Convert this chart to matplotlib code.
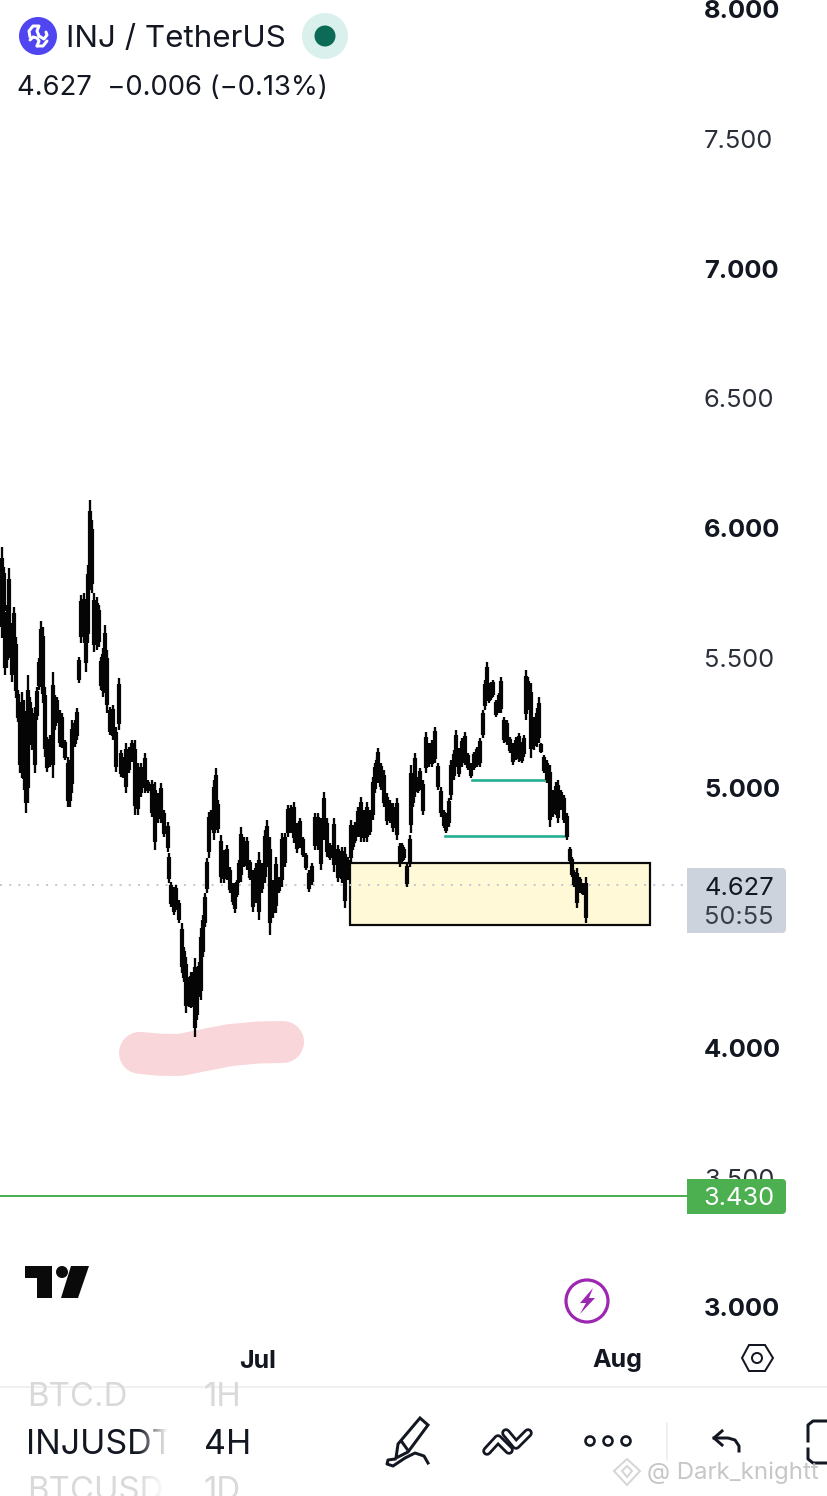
# INJ / TetherUS 4H chart screenshot
import numpy as np
import matplotlib
matplotlib.use('Agg')
import matplotlib.pyplot as plt
from matplotlib.patches import Rectangle, Circle, Polygon, FancyBboxPatch

plt.rcParams['font.family'] = ['Inter', 'DejaVu Sans']

# days since 1 Jul
bar_day = [-22.11,-21.93,-21.85,-21.68,-21.50,-21.24,-21.07,-20.90,-20.73,-20.55,-20.38,-20.21,-20.03,-19.86,-19.69,-19.52,-19.26,-19.08,-18.91,-18.74,
 -18.57,-18.39,-18.22,-17.96,-17.70,-17.53,-17.36,-17.10,-16.93,-16.67,-16.41,-16.23,-16.06,-15.80,-15.63,-15.46,-15.28,-15.03,-14.85,-14.68,
 -14.51,-14.33,-14.16,-13.90,-13.73,-13.56,-13.39,-13.21,-13.04,-12.78,-12.52,-12.26,-12.00,-11.83,-11.66,-11.40,-11.14,-10.88,-10.62,-10.36,
 -10.10,-9.76,-9.50,-9.15,-8.89,-8.64,-8.38,-8.12,-7.77,-7.69,-7.51,-7.25,-7.08,-6.82,-6.56,-6.39,-6.22,-5.96,-5.79,-5.61,
 -5.44,-5.27,-5.09,-4.92,-4.75,-4.58,-4.40,-4.23,-4.06,-3.80,-3.63,-3.45,-3.20,-2.94,-2.68,-2.42,-2.16,-1.99,-1.81,-1.64,
 -1.47,-1.21,-0.95,-0.69,-0.43,-0.17,0.09,0.35,0.60,0.78,1.04,1.30,1.55,1.81,2.07,2.33,2.59,2.85,3.11,3.37,
 3.63,3.89,4.15,4.40,4.66,4.92,5.18,5.44,5.70,5.96,6.22,6.56,6.91,7.25,7.51,7.77,8.03,8.20,8.38,8.64,
 8.89,9.15,9.41,9.67,9.93,10.10,10.28,10.36,10.62,10.88,11.14,11.40,11.66,12.00,12.26,12.44,12.61,12.87,13.13,13.21,
 13.39,13.56,13.82,13.99,14.25,14.51,14.77,15.03,15.28,15.54,15.80,16.06,16.23,16.49,16.67,16.93,17.10,17.36,17.62,17.88,
 18.13,18.39,18.65,18.91,19.17,19.43,19.60,19.78,19.95,20.12,20.29,20.55,20.81,20.98,21.24,21.50,21.76,22.02,22.28,22.54,
 22.80,22.97,23.14,23.32,23.58,23.83,24.09,24.27,24.44,24.70,24.96,25.22,25.47,25.73,25.91,26.17,26.42,26.68,26.94,27.12,
 27.29,27.55,27.81,28.07,28.32]
bar_high = [5.928,5.851,5.666,5.705,5.847,5.635,5.697,5.581,5.377,5.308,5.370,5.339,5.223,5.435,5.350,5.308,5.312,5.389,5.501,5.643,
 5.620,5.389,5.196,5.204,5.447,5.358,5.350,5.300,5.289,5.185,5.119,5.108,5.262,5.262,5.308,5.504,5.743,5.751,5.724,5.859,
 6.109,6.032,5.751,5.735,5.705,5.504,5.539,5.628,5.531,5.312,5.320,5.235,5.424,5.146,5.119,5.173,5.158,5.185,5.185,5.096,
 5.096,5.135,5.031,5.031,5.023,4.981,5.019,4.915,4.869,4.750,4.638,4.619,4.627,4.569,4.480,4.388,4.349,4.272,4.292,4.292,
 4.346,4.261,4.330,4.461,4.511,4.596,4.731,4.908,4.915,5.031,5.077,4.954,4.819,4.761,4.781,4.696,4.634,4.634,4.646,4.723,
 4.850,4.811,4.811,4.723,4.684,4.711,4.754,4.711,4.838,4.877,4.811,4.646,4.734,4.657,4.827,4.827,4.935,4.935,4.946,4.865,
 4.885,4.811,4.750,4.684,4.711,4.904,4.904,4.885,4.985,4.885,4.788,4.885,4.781,4.773,4.773,4.734,4.877,4.850,4.869,4.927,
 4.965,4.915,4.946,4.915,5.042,5.096,5.119,5.154,5.096,5.069,4.981,4.954,4.942,4.962,4.788,4.788,4.773,4.711,4.819,5.089,
 5.039,5.135,5.042,5.077,5.031,5.216,5.173,5.185,5.235,5.096,5.004,4.915,4.904,4.962,5.108,5.146,5.223,5.154,5.193,5.216,
 5.135,5.096,5.139,5.158,5.193,5.300,5.416,5.485,5.404,5.408,5.416,5.339,5.366,5.427,5.273,5.262,5.196,5.173,5.196,5.212,
 5.177,5.204,5.454,5.427,5.404,5.273,5.308,5.350,5.173,5.127,5.108,5.089,4.992,5.023,5.031,4.992,4.973,4.904,4.773,4.734,
 4.684,4.692,4.657,4.634,4.657]
bar_low = [5.578,5.658,5.435,5.462,5.501,5.408,5.501,5.347,5.254,5.058,5.039,4.992,4.904,4.942,5.185,5.146,5.058,5.262,5.377,5.389,
 5.327,5.119,5.062,5.081,5.039,5.223,5.250,5.158,5.154,5.108,4.927,4.927,4.981,5.158,5.185,5.404,5.558,5.558,5.447,5.558,
 5.762,5.751,5.524,5.531,5.543,5.377,5.350,5.366,5.289,5.204,5.185,5.062,5.223,5.042,5.039,4.981,5.058,5.100,4.896,4.896,
 4.965,4.981,4.981,4.888,4.761,4.865,4.865,4.811,4.754,4.634,4.542,4.511,4.530,4.480,4.288,4.253,4.134,4.157,4.153,4.157,
 4.041,4.107,4.195,4.184,4.349,4.465,4.596,4.731,4.838,4.800,4.838,4.827,4.634,4.634,4.646,4.596,4.550,4.519,4.580,4.634,
 4.638,4.696,4.684,4.646,4.523,4.557,4.492,4.596,4.634,4.696,4.434,4.500,4.519,4.596,4.619,4.696,4.811,4.827,4.788,4.750,
 4.769,4.734,4.684,4.600,4.627,4.761,4.761,4.684,4.800,4.734,4.723,4.677,4.638,4.634,4.538,4.646,4.711,4.761,4.788,4.811,
 4.792,4.792,4.792,4.819,4.877,4.981,5.019,5.019,4.992,4.927,4.858,4.865,4.831,4.800,4.696,4.711,4.723,4.619,4.696,4.827,
 4.927,4.965,4.981,4.992,4.896,5.058,5.081,5.081,5.096,4.992,4.888,4.846,4.827,4.850,4.954,5.031,5.081,5.042,5.081,5.089,
 5.069,5.039,5.069,5.081,5.081,5.193,5.300,5.339,5.327,5.339,5.350,5.273,5.289,5.289,5.173,5.166,5.135,5.089,5.108,5.100,
 5.096,5.119,5.262,5.300,5.116,5.146,5.158,5.173,5.135,5.058,5.019,4.850,4.888,4.896,4.865,4.915,4.865,4.800,4.711,4.657,
 4.619,4.538,4.596,4.588,4.480]

price_ticks = [8, 7.5, 7, 6.5, 6, 5.5, 5, 4, 3.5, 3]
month_days = [0, 31]
month_labels = ['Jul', 'Aug']
last_price = 4.627
alert_price = 3.430
zone_days = [7.94, 33.85]
zone_prices = [4.472, 4.711]
level_a = ([18.48, 24.70], [5.029, 5.029])
level_b = ([16.15, 26.51], [4.817, 4.817])
blob_days = [-10.19, -8.5, -6.74, -4.5, -2.42, 0.0, 2.16]
blob_prices = [3.980, 3.973, 3.972, 3.992, 4.010, 4.020, 4.022]

PX = 0.72  # points per pixel at dpi 100
fig = plt.figure(figsize=(8.28, 14.96), dpi=100)
ax = fig.add_axes([0, 0, 1, 1])
ax.set_xlim(-258 / 11.58, 570 / 11.58)
ax.set_ylim(5 - 708 / 259.7, 5 + 788 / 259.7)
for s in ax.spines.values():
    s.set_visible(False)

# price scale, labels sit inside the plot on the right
ax.yaxis.tick_right()
ax.set_yticks(price_ticks)
ax.set_yticklabels(['%.3f' % p for p in price_ticks])
ax.tick_params(axis='y', length=0, pad=-124 * PX, labelsize=25.5 * PX, labelcolor='#131722')
for p, lab in zip(price_ticks, ax.get_yticklabels()):
    lab.set_fontweight('bold' if p == int(p) else 'normal')
    lab.set_color('#131722' if p == int(p) else '#2a2e39')
ax.set_xticks(month_days)
ax.set_xticklabels(month_labels, fontweight='bold')
ax.tick_params(axis='x', length=0, pad=-146.5 * PX, labelsize=25 * PX, labelcolor='#131722')

ax.plot(blob_days, blob_prices, color='#f9d6da', lw=42 * PX, solid_capstyle='round', solid_joinstyle='round', zorder=1)
ax.add_patch(Rectangle((zone_days[0], zone_prices[0]), zone_days[1] - zone_days[0], zone_prices[1] - zone_prices[0],
                       fc='#fff9d8', ec='#0a0a0a', lw=2.2 * PX, zorder=1))
ax.plot([ax.get_xlim()[0], 37.0], [last_price, last_price], color='#c4c8cf', lw=2 * PX, ls=(0, (1, 3.6)), zorder=2)
ax.plot([ax.get_xlim()[0], 37.05], [alert_price, alert_price], color='#4caf50', lw=2 * PX, zorder=2)
ax.plot(*level_a, color='#1fae8f', lw=2.6 * PX, zorder=2)
ax.plot(*level_b, color='#1fae8f', lw=2.6 * PX, zorder=2)

# thin wicks, then a heavier core over the middle of each range for the candle bodies
high = np.array(bar_high)
low = np.array(bar_low)
span = high - low
ax.vlines(bar_day, low, high, color='#050505', lw=2.3 * PX, zorder=3)
ax.vlines(bar_day, low + span * 0.12, high - span * 0.12, color='#050505', lw=4.2 * PX, zorder=3)

# everything else is app chrome, drawn in pixels on top of the chart
ov = fig.add_axes([0, 0, 1, 1], facecolor='none')
ov.set_xlim(0, 828)
ov.set_ylim(1496, 0)
ov.axis('off')

# header
ov.add_patch(Circle((38, 36), 19, fc='#4f46f2', ec='none'))
ov.plot([30, 29, 33, 39, 37, 39], [37, 31, 26, 26, 31, 36], color='white', lw=3 * PX, solid_capstyle='round')
ov.plot([39, 44, 47, 46], [36, 39, 35, 32], color='white', lw=3 * PX, solid_capstyle='round')
ov.plot([30, 33, 37, 39, 37], [40, 37, 38, 41, 46], color='white', lw=3 * PX, solid_capstyle='round')
ov.plot([37, 43, 47], [46, 46, 41], color='white', lw=3 * PX, solid_capstyle='round')
ov.text(66, 39, 'INJ / TetherUS', fontsize=31.4 * PX, color='#131722', va='center', ha='left')
ov.add_patch(Circle((325, 36), 23, fc='#daf0ec', ec='none'))
ov.add_patch(Circle((325, 36), 10.5, fc='#0b6b57', ec='none'))
ov.text(17.5, 88, '4.627  \u22120.006 (\u22120.13%)', fontsize=27.4 * PX, color='#131722', va='center', ha='left')

# price tags
ov.add_patch(FancyBboxPatch((687, 868), 99, 65, boxstyle='round,pad=0,rounding_size=4', fc='#cdd3dc', ec='none'))
ov.add_patch(Rectangle((687, 868), 12, 65, fc='#cdd3dc', ec='none'))
ov.text(739, 888, '4.627', fontsize=25.5 * PX, color='#131722', ha='center', va='center')
ov.text(739, 917, '50:55', fontsize=25.5 * PX, color='#3a3e48', ha='center', va='center')
ov.add_patch(FancyBboxPatch((687, 1179), 99, 35, boxstyle='round,pad=0,rounding_size=4', fc='#4caf50', ec='none'))
ov.add_patch(Rectangle((687, 1179), 12, 35, fc='#4caf50', ec='none'))
ov.text(739, 1198.5, '3.430', fontsize=25.5 * PX, color='white', ha='center', va='center')

# TradingView logo
ov.add_patch(Polygon([(25, 1266), (52, 1266), (52, 1298), (37, 1298), (37, 1278), (25, 1278)], fc='#0a0a0a', ec='none'))
ov.add_patch(Circle((62, 1272), 6, fc='#0a0a0a', ec='none'))
ov.add_patch(Polygon([(71, 1266), (89, 1266), (78, 1298), (61, 1298)], fc='#0a0a0a', ec='none'))

# purple bolt
ov.add_patch(Circle((587, 1301), 21, fc='none', ec='#9c27b0', lw=3.2 * PX))
ov.add_patch(Polygon([(593, 1288), (580, 1303), (586, 1303), (580, 1314), (595, 1298), (589, 1298)], fc='#9c27b0', ec='none'))

# settings hexagon
ov.add_patch(Polygon([(742, 1358), (749, 1345), (765, 1345), (773, 1358), (765, 1371), (749, 1371)], fc='none', ec='#131722', lw=2 * PX))
ov.add_patch(Circle((757, 1358), 5, fc='none', ec='#131722', lw=2 * PX))

# bottom toolbar
ov.plot([0, 828], [1387, 1387], color='#ececec', lw=1.5 * PX)
clip = Rectangle((0, 1388), 828, 108, transform=ov.transData)
for x, y, s, c, fs in [(27, 1398, 'BTC.D', '#d9d9d9', 33), (204, 1398, '1H', '#d9d9d9', 33),
                       (26, 1444.5, 'INJUSDT', '#131722', 34), (204, 1444.5, '4H', '#131722', 34),
                       (27, 1491, 'BTCUSD', '#d9d9d9', 33), (204, 1491, '1D', '#d9d9d9', 33)]:
    t = ov.text(x, y, s, fontsize=fs * PX, color=c, ha='left', va='center')
    t.set_clip_path(clip)
fade = np.ones((1, 40, 4))
fade[0, :, 3] = np.linspace(0, 1, 40)
ov.imshow(fade, extent=(138, 168, 1496, 1388), aspect='auto', zorder=4)
ov.add_patch(Rectangle((168, 1388), 32, 108, fc='white', ec='none', zorder=4))
ov.set_xlim(0, 828)
ov.set_ylim(1496, 0)

# pen
ov.add_patch(Polygon([(420, 1418), (428, 1425), (408, 1452), (396, 1458), (398, 1444)], fc='none', ec='#131722', lw=3 * PX))
ov.plot([402, 407], [1442, 1449], color='#131722', lw=3 * PX)
ov.plot([395, 388, 387, 393, 405, 415, 424, 428], [1459, 1460, 1464, 1466, 1458, 1453, 1456, 1463], color='#131722', lw=3 * PX)
# trend tool, black stroke with a white core
for xs, ys in [([487, 498, 509], [1451, 1439, 1450]), ([506, 516, 528], [1433, 1445, 1433])]:
    ov.plot(xs, ys, color='#131722', lw=9.5 * PX, solid_capstyle='round')
    ov.plot(xs, ys, color='white', lw=4 * PX, solid_capstyle='round')
for x in [590, 608, 626]:
    ov.add_patch(Circle((x, 1441), 4.5, fc='none', ec='#131722', lw=2.6 * PX))
ov.plot([667, 667], [1423, 1460], color='#ececec', lw=1.5 * PX)
# undo
ov.plot([739, 739, 735, 728, 714], [1451, 1446, 1440, 1438, 1438], color='#131722', lw=3 * PX)
ov.plot([722, 714, 722], [1431, 1438, 1445], color='#131722', lw=3 * PX)
# cut off bracket icon
ov.plot([828, 813, 808, 808], [1421, 1421, 1425, 1441], color='#131722', lw=3 * PX)
ov.plot([808, 808, 813, 828], [1449, 1459, 1463, 1463], color='#131722', lw=3 * PX)

# watermark
ov.add_patch(Polygon([(627, 1459), (640, 1471), (627, 1485), (614, 1471)], fc='none', ec='#d6d6d6', lw=2 * PX))
ov.add_patch(Polygon([(627, 1466), (632, 1471), (627, 1477), (622, 1471)], fc='none', ec='#d6d6d6', lw=2 * PX))
ov.text(647, 1473, '@ Dark_knightt', fontsize=24 * PX, color='#bdbdbd', alpha=0.85, ha='left', va='center')

fig.savefig('out.png', dpi=100, facecolor='white')
